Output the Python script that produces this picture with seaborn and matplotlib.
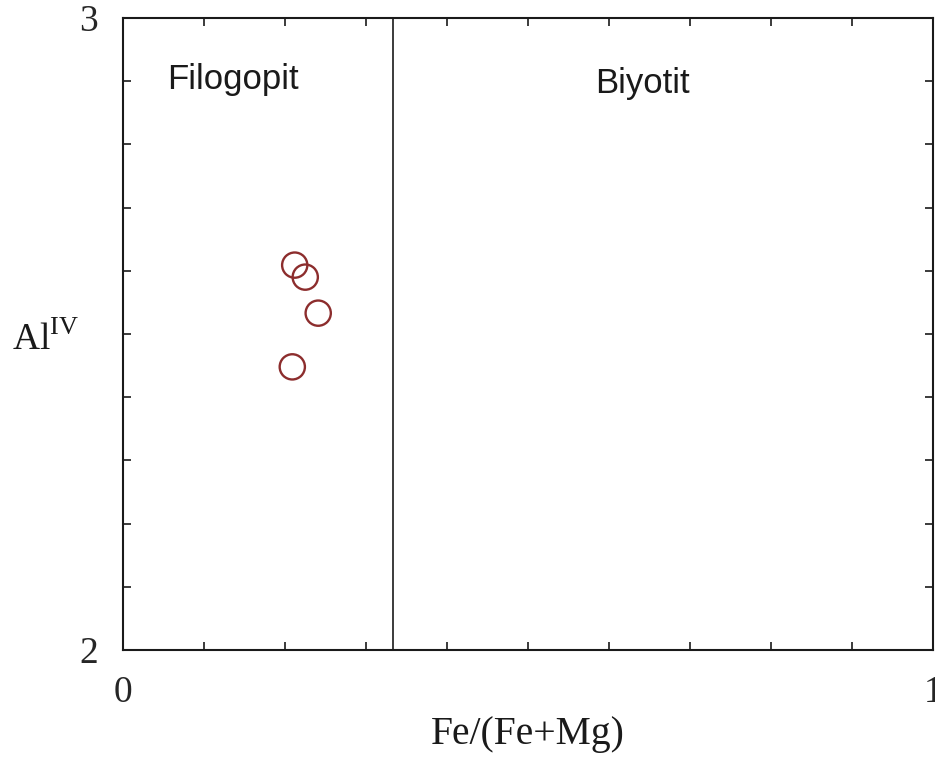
import matplotlib
matplotlib.use("Agg")
import matplotlib.pyplot as plt
import seaborn as sns
import numpy as np
import pandas as pd

# data
fe_ratio = [0.212, 0.225, 0.241, 0.209]
al_iv = [2.609, 2.590, 2.533, 2.448]
x_ticks = [round(0.1 * i, 1) for i in range(11)]
y_ticks = [round(2 + 0.1 * i, 1) for i in range(11)]
x_ticklabels = ["0"] + [""] * 9 + ["1"]
y_ticklabels = ["2"] + [""] * 9 + ["3"]
boundary_x = 1 / 3
field_labels = ["Filogopit", "Biyotit"]
field_pos_x = [0.136, 0.641]
field_pos_y = [2.902, 2.897]

df = pd.DataFrame({"Fe/(Fe+Mg)": fe_ratio, "AlIV": al_iv})

sns.set_style("ticks")
plt.rcParams["mathtext.fontset"] = "custom"
plt.rcParams["mathtext.rm"] = "Liberation Serif"

fig = plt.figure(figsize=(9.35, 7.58), dpi=100)
ax = fig.add_axes([123 / 935, 108 / 758, 810 / 935, 632 / 758])

sns.scatterplot(data=df, x="Fe/(Fe+Mg)", y="AlIV", ax=ax, s=330,
                facecolor="none", edgecolor="#8c2d2d", linewidth=1.7,
                marker="o", zorder=3)

ax.axvline(boundary_x, color="#1a1a1a", lw=1.2, zorder=2)

ax.set_xlim(0, 1)
ax.set_ylim(2, 3)
ax.set_xticks(x_ticks)
ax.set_yticks(y_ticks)
ax.set_xticklabels(x_ticklabels, fontfamily="Liberation Serif", fontsize=27)
ax.set_yticklabels(y_ticklabels, fontfamily="Liberation Serif", fontsize=27)
ax.tick_params(axis="both", direction="in", length=6, width=1.2,
               top=True, right=True, color="#1a1a1a")
ax.tick_params(axis="x", pad=18)
ax.tick_params(axis="y", pad=18)

for sp in ax.spines.values():
    sp.set_visible(True)
    sp.set_linewidth(1.5)
    sp.set_color("#1a1a1a")

ax.set_xlabel("Fe/(Fe+Mg)", fontfamily="Liberation Serif", fontsize=28.5,
              labelpad=5, color="#1a1a1a")
ax.set_ylabel("")
fig.text(12 / 935, 1 - 340 / 758, r"$\mathrm{Al}^{\mathrm{IV}}$",
         fontsize=27, ha="left", va="center", color="#1a1a1a")

for lab, xx, yy in zip(field_labels, field_pos_x, field_pos_y):
    ax.text(xx, yy, lab, fontfamily="Liberation Sans", fontsize=25,
            ha="center", va="center", color="#1a1a1a")

fig.savefig("out.png", dpi=100)
